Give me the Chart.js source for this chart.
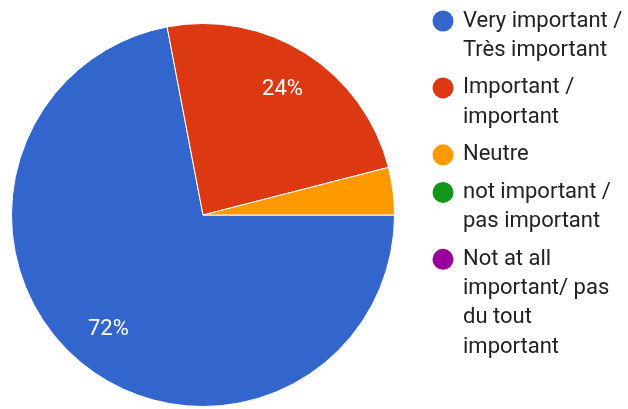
<!DOCTYPE html>
<html>
<head>
<meta charset="utf-8">
<title>Pie</title>
<script src="https://cdn.jsdelivr.net/npm/chart.js@4/dist/chart.umd.min.js"></script>
<style>
  html, body { margin: 0; padding: 0; background: #fff; }
  canvas { display: block; }
</style>
</head>
<body>
<canvas id="pieChart" width="628" height="409"></canvas>
<script>
// answer categories (each entry is the wrapped legend text)
const categories = [
    ["Very important /", "Très important"],
    ["Important /", "important"],
    ["Neutre"],
    ["not important /", "pas important"],
    ["Not at all", "important/ pas", "du tout", "important"]
];
// share of responses, in %
const percentages = [72, 24, 4, 0, 0];
const sliceColors = ["#3366cc", "#dc3912", "#ff9900", "#109618", "#990099"];

const FONT = "Roboto, 'Noto Sans', Arial, sans-serif";

// percent text inside the bigger slices
const sliceLabels = {
    id: "sliceLabels",
    afterDatasetsDraw(chart) {
        const ctx = chart.ctx;
        const meta = chart.getDatasetMeta(0);
        ctx.save();
        ctx.fillStyle = "#ffffff";
        ctx.font = "22px " + FONT;
        ctx.textAlign = "center";
        ctx.textBaseline = "middle";
        meta.data.forEach((arc, i) => {
            const v = chart.data.datasets[0].data[i];
            if (v < 5) return;
            const mid = (arc.startAngle + arc.endAngle) / 2;
            const r = arc.outerRadius * 0.775;
            ctx.fillText(v + "%", arc.x + Math.cos(mid) * r, arc.y + Math.sin(mid) * r);
        });
        ctx.restore();
    }
};

// legend on the right: dot + wrapped lines
const sideLegend = {
    id: "sideLegend",
    afterDraw(chart) {
        const ctx = chart.ctx;
        const lineH = 29.3;
        const gap = 8.3;
        let y = 21;
        ctx.save();
        ctx.font = "22px " + FONT;
        ctx.textBaseline = "middle";
        ctx.textAlign = "left";
        chart.data.labels.forEach((lines, i) => {
            ctx.fillStyle = chart.data.datasets[0].backgroundColor[i];
            ctx.beginPath();
            ctx.arc(443, y, 10.5, 0, Math.PI * 2);
            ctx.fill();
            ctx.fillStyle = "#222222";
            lines.forEach((t, k) => ctx.fillText(t, 463, y + k * lineH));
            y += lines.length * lineH + gap;
        });
        ctx.restore();
    }
};

new Chart(document.getElementById("pieChart").getContext("2d"), {
    type: "pie",
    data: {
        labels: categories,
        datasets: [{
            data: percentages,
            backgroundColor: sliceColors,
            borderColor: "#ffffff",
            borderWidth: 1
        }]
    },
    options: {
        responsive: false,
        animation: false,
        rotation: 90,
        layout: { padding: { left: 11, top: 23, right: 233, bottom: 2 } },
        plugins: {
            legend: { display: false },
            tooltip: { enabled: false }
        }
    },
    plugins: [sliceLabels, sideLegend]
});
</script>
</body>
</html>
